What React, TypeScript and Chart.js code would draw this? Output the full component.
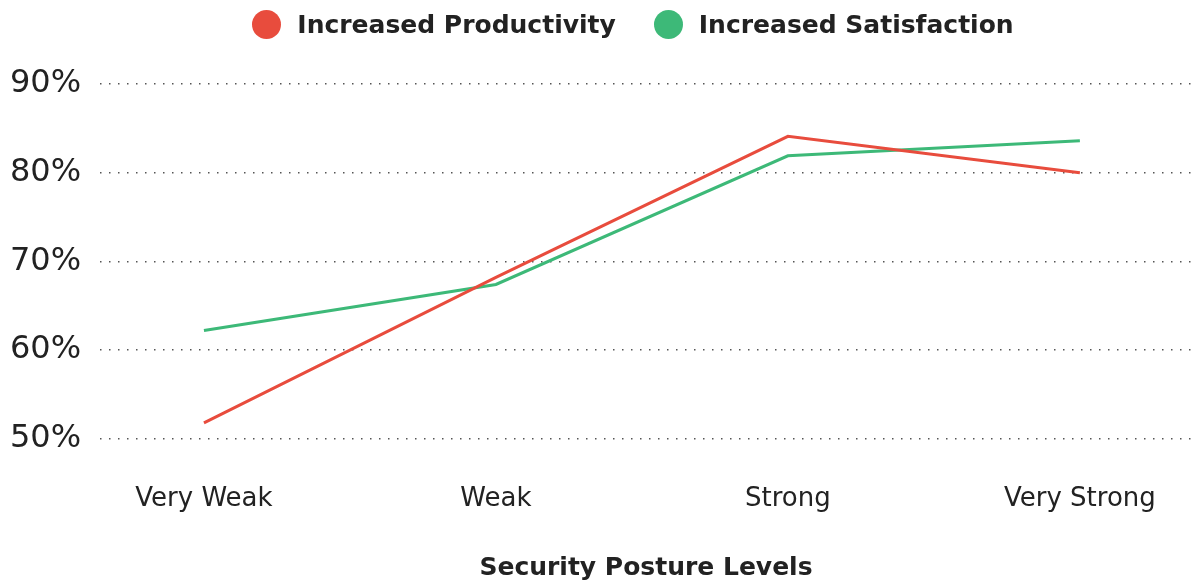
import React, { useEffect, useRef } from "react";
import { Chart, registerables } from "chart.js";

Chart.register(...registerables);

const categories = ["Very Weak", "Weak", "Strong", "Very Strong"];
const productivity = [51.8, 68.2, 84.1, 80.0];
const satisfaction = [62.2, 67.4, 81.9, 83.6];
const yTicks = [50, 60, 70, 80, 90];
const seriesNames = ["Increased Productivity", "Increased Satisfaction"];

const RED = "#E84C3D";
const GREEN = "#3DB978";
const COLORS = [RED, GREEN];
const FONT = "'DejaVu Sans', sans-serif";

export default function App() {
  const ref = useRef<HTMLCanvasElement | null>(null);
  useEffect(() => {
    if (!ref.current) return;
    const chart = new Chart(ref.current, {
      type: "line",
      data: {
        datasets: [
          {
            label: seriesNames[0],
            data: productivity.map((v, i) => ({ x: i, y: v })),
            borderColor: RED,
            backgroundColor: RED,
            borderWidth: 3,
            pointRadius: 0,
            tension: 0,
          },
          {
            label: seriesNames[1],
            data: satisfaction.map((v, i) => ({ x: i, y: v })),
            borderColor: GREEN,
            backgroundColor: GREEN,
            borderWidth: 3,
            pointRadius: 0,
            tension: 0,
          },
        ],
      },
      options: {
        animation: false,
        responsive: true,
        maintainAspectRatio: false,
        layout: { padding: { left: 10, right: 6, top: 84, bottom: -2 } },
        plugins: {
          tooltip: { enabled: false },
          legend: { display: false },
        },
        scales: {
          x: {
            type: "linear",
            min: -0.356,
            max: 3.384,
            grid: { display: false, drawTicks: false },
            border: { display: false },
            afterBuildTicks: (axis: any) => {
              axis.ticks = categories.map((_, i) => ({ value: i }));
            },
            afterFit: (axis: any) => {
              axis.paddingLeft = 0;
              axis.paddingRight = 0;
            },
            ticks: {
              padding: 45,
              color: "#222",
              font: { family: FONT, size: 26 },
              callback: (v: any) => categories[v as number] ?? "",
              maxRotation: 0,
              autoSkip: false,
            },
            title: {
              display: true,
              text: "Security Posture Levels",
              color: "#222",
              font: { family: FONT, size: 25, weight: "bold" },
              padding: { top: -7, bottom: 0 },
            },
          },
          y: {
            min: 50,
            max: 90,
            afterBuildTicks: (axis: any) => {
              axis.ticks = yTicks.map((v) => ({ value: v }));
            },
            afterFit: (axis: any) => {
              axis.width = 90;
            },
            grid: {
              drawTicks: false,
              color: "#555",
              lineWidth: 1.5,
            },
            border: { display: false, dash: [1.5, 7.5] },
            ticks: {
              padding: 19,
              crossAlign: "far",
              color: "#222",
              font: { family: FONT, size: 32 },
              callback: (v: any) => v + "%",
            },
          },
        },
      },
    });
    return () => chart.destroy();
  }, []);
  return (
    <div style={{ position: "fixed", left: 0, top: 0, width: 1198, height: 581, background: "#fff" }}>
      <canvas ref={ref} />
      <div
        style={{
          position: "absolute",
          left: 0,
          top: 9,
          width: "100%",
          display: "flex",
          justifyContent: "center",
          paddingLeft: 68,
          boxSizing: "border-box",
          fontFamily: FONT,
          fontWeight: "bold",
          fontSize: 25,
          color: "#222",
          gap: 38,
        }}
      >
        {seriesNames.map((name, i) => (
          <div key={name} style={{ display: "flex", alignItems: "center", height: 30 }}>
            <span
              style={{
                display: "inline-block",
                width: 29,
                height: 29,
                borderRadius: "50%",
                background: COLORS[i],
                marginRight: 16,
              }}
            />
            <span>{name}</span>
          </div>
        ))}
      </div>
    </div>
  );
}
